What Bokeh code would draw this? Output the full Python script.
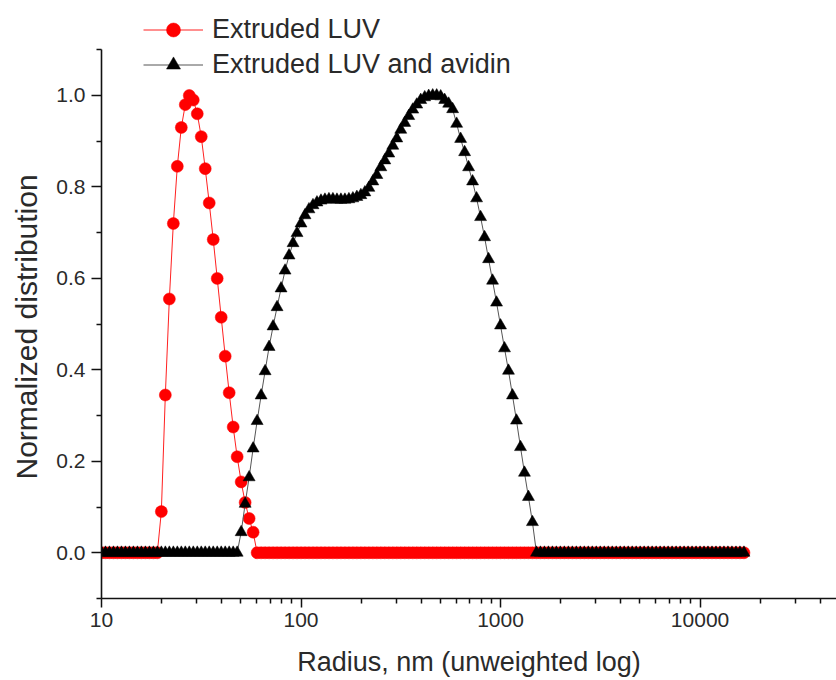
from bokeh.plotting import figure
from bokeh.models import (Range1d, FixedTicker, PrintfTickFormatter, Legend, LegendItem,
                          ColumnDataSource, Title)
from bokeh.embed import file_html
from bokeh.resources import INLINE

# ---- data ----
radius_nm = [
    10.00, 10.47, 10.96, 11.48, 12.02, 12.59, 13.18, 13.80, 14.45, 15.14,
    15.85, 16.60, 17.38, 18.20, 19.05, 19.95, 20.89, 21.88, 22.91, 23.99,
    25.12, 26.30, 27.54, 28.84, 30.20, 31.62, 33.11, 34.67, 36.31, 38.02,
    39.81, 41.69, 43.65, 45.71, 47.86, 50.12, 52.48, 54.95, 57.54, 60.26,
    63.10, 66.07, 69.18, 72.44, 75.86, 79.43, 83.18, 87.10, 91.20, 95.50,
    100.0, 104.7, 109.6, 114.8, 120.2, 125.9, 131.8, 138.0, 144.5, 151.4,
    158.5, 166.0, 173.8, 182.0, 190.5, 199.5, 208.9, 218.8, 229.1, 239.9,
    251.2, 263.0, 275.4, 288.4, 302.0, 316.2, 331.1, 346.7, 363.1, 380.2,
    398.1, 416.9, 436.5, 457.1, 478.6, 501.2, 524.8, 549.5, 575.4, 602.6,
    631.0, 660.7, 691.8, 724.4, 758.6, 794.3, 831.8, 871.0, 912.0, 955.0,
    1000, 1047, 1096, 1148, 1202, 1259, 1318, 1380, 1445, 1514,
    1585, 1660, 1738, 1820, 1905, 1995, 2089, 2188, 2291, 2399,
    2512, 2630, 2754, 2884, 3020, 3162, 3311, 3467, 3631, 3802,
    3981, 4169, 4365, 4571, 4786, 5012, 5248, 5495, 5754, 6026,
    6310, 6607, 6918, 7244, 7586, 7943, 8318, 8710, 9120, 9550,
    10000, 10470, 10960, 11480, 12020, 12590, 13180, 13800, 14450, 15140,
    15850, 16600,
]

luv_peak = [
    0.090, 0.345, 0.555, 0.720, 0.845, 0.930, 0.980, 1.000, 0.990, 0.960,
    0.910, 0.840, 0.765, 0.685, 0.600, 0.515, 0.430, 0.350, 0.275, 0.210,
    0.155, 0.110, 0.075, 0.045,
]
luv = [0.0] * 15 + luv_peak + [0.0] * 123

avidin_peak = [
    0.045, 0.107, 0.165, 0.228, 0.288, 0.344, 0.397, 0.450, 0.495, 0.537,
    0.578, 0.617, 0.650, 0.677, 0.699, 0.720, 0.738, 0.751, 0.760, 0.766,
    0.770, 0.772, 0.773, 0.773, 0.772, 0.772, 0.772, 0.773, 0.775, 0.778,
    0.782, 0.788, 0.798, 0.812, 0.826, 0.843, 0.858, 0.873, 0.890, 0.906,
    0.925, 0.940, 0.955, 0.969, 0.980, 0.990, 0.996, 0.999, 1.000, 1.000,
    0.998, 0.990, 0.982, 0.970, 0.938, 0.905, 0.876, 0.843, 0.812, 0.775,
    0.734, 0.690, 0.642, 0.595, 0.547, 0.497, 0.447, 0.398, 0.344, 0.289,
    0.231, 0.175, 0.122, 0.067,
]
luv_avidin = [0.0] * 35 + avidin_peak + [0.0] * 53

series_labels = ["Extruded LUV", "Extruded LUV and avidin"]
x_title = "Radius, nm (unweighted log)"
y_title = "Normalized distribution"
x_major_ticks = [10, 100, 1000, 10000]
x_minor_ticks = [m * d for d in (10, 100, 1000, 10000) for m in range(2, 10)]
y_major_ticks = [0.0, 0.2, 0.4, 0.6, 0.8, 1.0]
y_minor_ticks = [-0.1, 0.1, 0.3, 0.5, 0.7, 0.9, 1.1]

FONT = "Liberation Sans"
TXT = "#2a2a2a"

src = ColumnDataSource(dict(r=radius_nm, a=luv, b=luv_avidin))

p = figure(width=836, height=680, x_axis_type="log",
           x_range=Range1d(10, 48300), y_range=Range1d(-0.1, 1.2077),
           output_backend="svg", toolbar_location=None,
           min_border_left=101, min_border_right=0, min_border_top=0, min_border_bottom=82)

p.grid.visible = False
p.outline_line_color = None
p.background_fill_color = "white"
p.border_fill_color = "white"

l1 = p.line("r", "a", source=src, line_color="#ff2020", line_width=1)
s1 = p.scatter("r", "a", source=src, marker="circle", size=12,
               fill_color="#ff0000", line_color="#ff0000", line_width=0.5)
l2 = p.line("r", "b", source=src, line_color="#555555", line_width=1)
s2 = p.scatter("r", "b", source=src, marker="triangle", size=12,
               fill_color="#000000", line_color="#000000", line_width=0.5)

# axes
xa = p.xaxis[0]
xa.ticker = FixedTicker(ticks=x_major_ticks, minor_ticks=x_minor_ticks)
xa.formatter = PrintfTickFormatter(format="%d")
xa.axis_label = x_title
ya = p.yaxis[0]
ya.ticker = FixedTicker(ticks=y_major_ticks, minor_ticks=y_minor_ticks)
ya.formatter = PrintfTickFormatter(format="%.1f")
ya.bounds = (-0.1, 1.1)

for ax in (xa, ya):
    ax.axis_line_color = "#111111"
    ax.axis_line_width = 1.6
    ax.major_tick_line_color = "#111111"
    ax.minor_tick_line_color = "#111111"
    ax.major_tick_line_width = 1.5
    ax.minor_tick_line_width = 1.5
    ax.major_tick_in = 0
    ax.minor_tick_in = 0
    ax.minor_tick_out = 5
    ax.major_label_text_font = FONT
    ax.major_label_text_font_size = "21px"
    ax.major_label_text_color = TXT
    ax.axis_label_text_font = FONT
    ax.axis_label_text_font_style = "normal"
    ax.axis_label_text_color = TXT

xa.major_tick_out = 9
xa.major_label_standoff = 5
xa.axis_label_text_font_size = "27px"
xa.axis_label_standoff = 17
ya.major_tick_out = 10
ya.major_label_standoff = 6

# y title as a side title so that it can be centred on the bounded axis
yt = Title(text=y_title, align="left", vertical_align="top", offset=119, standoff=18,
           text_font=FONT, text_font_size="30px", text_font_style="normal", text_color=TXT)
p.add_layout(yt, "left")

legend = Legend(items=[LegendItem(label=series_labels[0], renderers=[l1, s1]),
                       LegendItem(label=series_labels[1], renderers=[l2, s2])],
                location=(42, 516), orientation="vertical",
                glyph_width=60, glyph_height=35, label_standoff=9, spacing=-2,
                padding=0, margin=0, border_line_alpha=0, background_fill_alpha=0,
                label_text_font=FONT, label_text_font_size="27px", label_text_color=TXT)
p.add_layout(legend)

open("out.html", "w").write(file_html(p, INLINE))
